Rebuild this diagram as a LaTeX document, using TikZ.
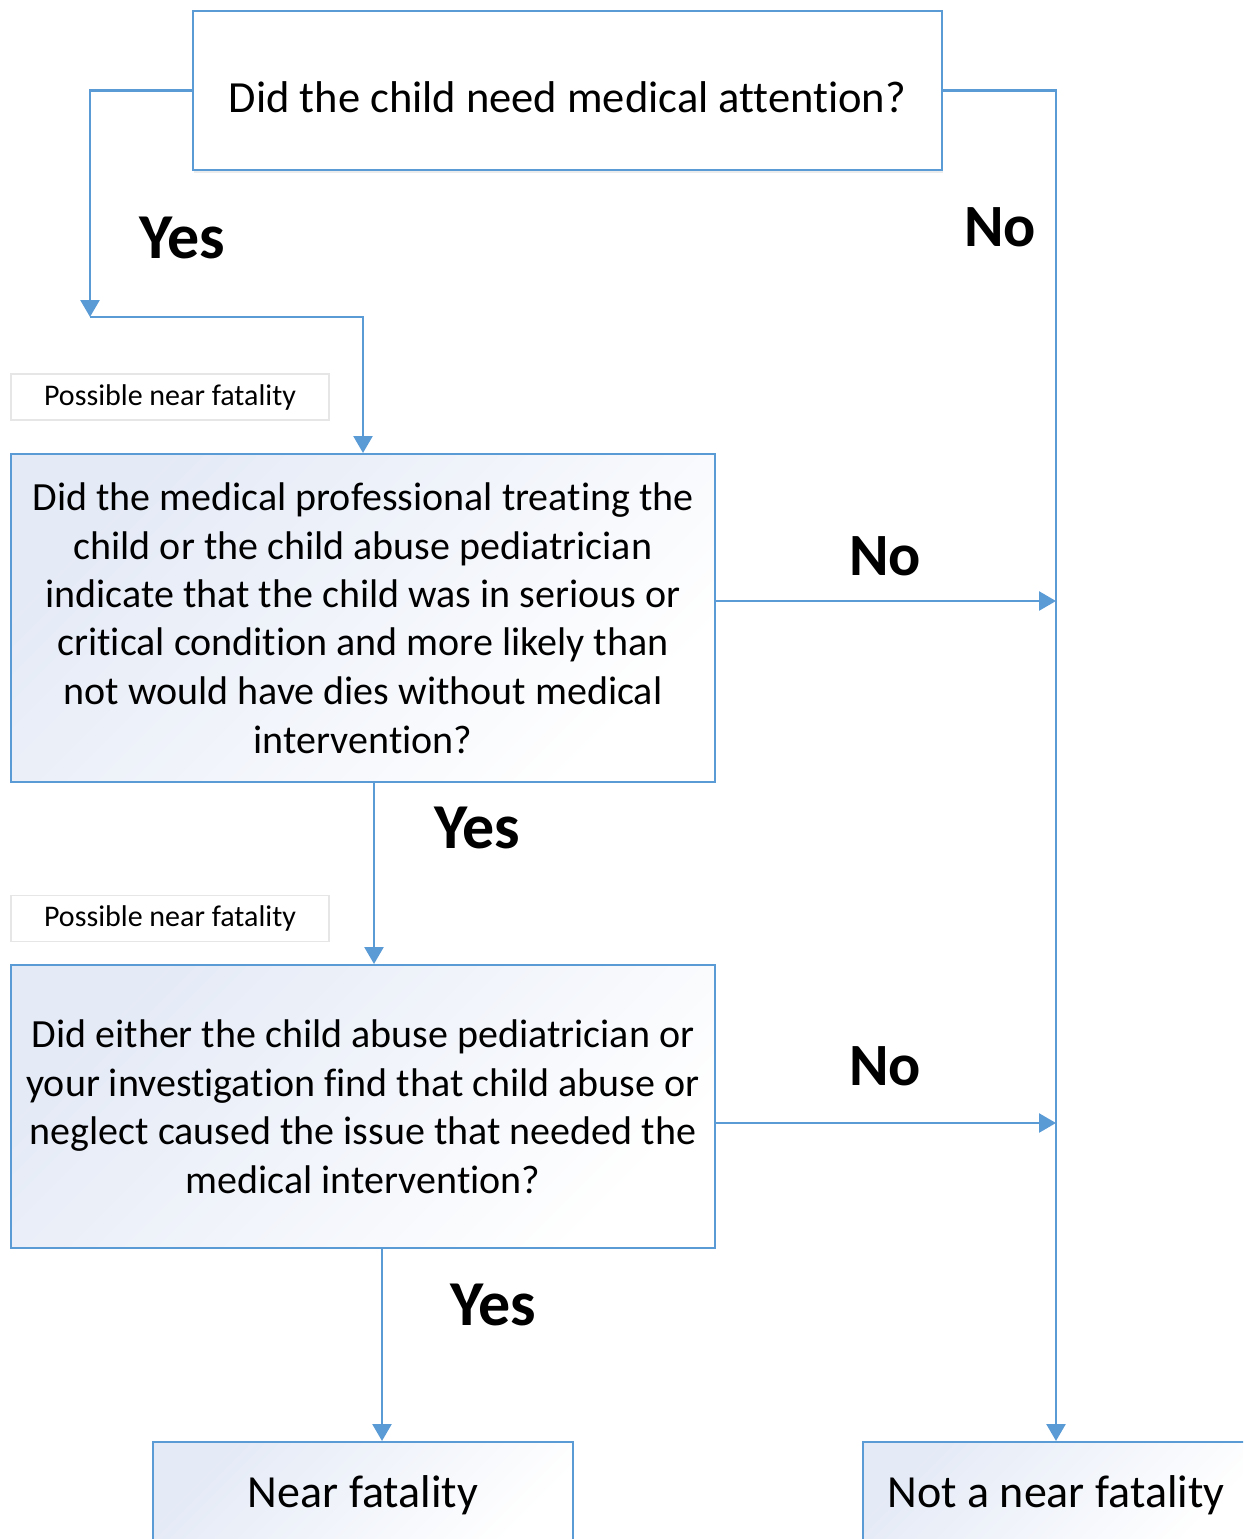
\documentclass[tikz,border=0pt]{standalone}
\usepackage{fontspec}
\setmainfont{Carlito}[Ligatures=NoCommon]
\usepackage{tikz}
\usetikzlibrary{arrows.meta,shadows}
\definecolor{office_blue}{HTML}{5B9BD5}
\definecolor{box_sk}{HTML}{E4EAF6}
\definecolor{tag_gray}{HTML}{E6E6E6}

\begin{document}
\begin{tikzpicture}[x=1pt,y=-1pt,
    question/.style={draw=office_blue,line width=2pt,align=center,
        font=\fontsize{40}{48.5}\selectfont},
    shadedbox/.style={question,top color=box_sk,bottom color=white,shading angle=45},
    tag/.style={draw=tag_gray,line width=1.5pt,fill=white,minimum width=318pt,
        minimum height=46pt,font=\fontsize{30}{34}\selectfont},
    answer/.style={font=\fontsize{60}{72}\selectfont\bfseries},
    flow/.style={office_blue,line width=2.6pt,-{Triangle[width=19pt,length=17pt]}}]
    \clip (0,0) rectangle (1243,1539);

    % questions
    \node[question,fill=white,text height=45pt,minimum width=749pt,minimum height=159pt,
          drop shadow={opacity=0.15,shadow xshift=1pt,shadow yshift=-3pt},
          font=\fontsize{44.5}{48.5}\selectfont] (attn) at (567.5,90.5)
          {Did the child need medical attention?};
    \node[shadedbox,minimum width=704pt,minimum height=328pt] (med) at (363,618)
          {Did the medical professional treating the\\
           child or the child abuse pediatrician\\
           indicate that the child was in serious or\\
           critical condition and more likely than\\
           not would have dies without medical\\
           intervention?};
    \node[shadedbox,minimum width=704pt,minimum height=283pt] (abuse) at (363,1106.5)
          {Did either the child abuse pediatrician or\\
           your investigation find that child abuse or\\
           neglect caused the issue that needed the\\
           medical intervention?};

    % outcomes
    \node[shadedbox,anchor=north,minimum width=420pt,inner ysep=33.5pt,
          font=\fontsize{46}{52}\selectfont] (near) at (363,1441) {Near fatality};
    \node[shadedbox,anchor=north,minimum width=386pt,inner ysep=33.5pt,
          font=\fontsize{46}{52}\selectfont] (notnear) at (1056,1441) {Not a near fatality};

    \node[tag] (tag1) at (170,397) {Possible near fatality};
    \node[tag] (tag2) at (170,918.5) {Possible near fatality};

    % connectors
    \coordinate (yesturn) at (90,317);
    \draw[flow] (attn.west) -| (yesturn);
    \draw[flow] (yesturn) -| (med.north);
    \draw[flow] (attn.east) -| (notnear.north);
    \draw[flow] ([yshift=17pt]med.east) -- ([yshift=17pt]med.east -| notnear.north);
    \draw[flow] ([xshift=11pt]med.south) -- ([xshift=11pt]abuse.north);
    \draw[flow] ([yshift=-16.5pt]abuse.east) -- ([yshift=-16.5pt]abuse.east -| notnear.north);
    \draw[flow] ([xshift=19pt]abuse.south) -- ([xshift=19pt]near.north);

    \node[answer,font=\fontsize{64}{72}\selectfont\bfseries] (yes1) at (182,238) {Yes};
    \node[answer] (no1) at (1000,227) {No};
    \node[answer] (no2) at (885,556) {No};
    \node[answer,font=\fontsize{64}{72}\selectfont\bfseries] (yes2) at (477,828) {Yes};
    \node[answer] (no3) at (885,1066) {No};
    \node[answer,font=\fontsize{64}{72}\selectfont\bfseries] (yes3) at (493,1305) {Yes};
\end{tikzpicture}
\end{document}
